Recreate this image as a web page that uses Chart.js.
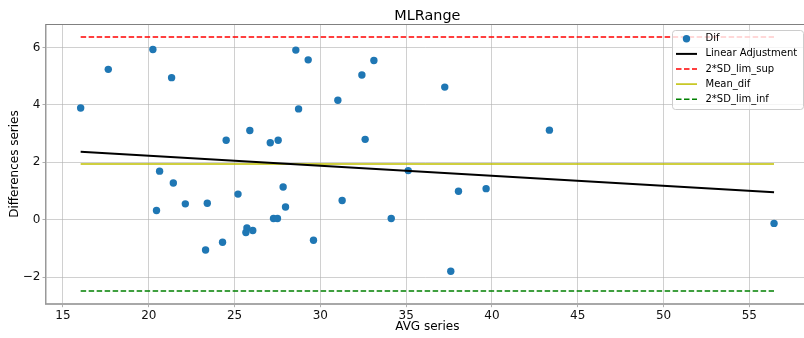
<!DOCTYPE html>
<html>
<head>
<meta charset="utf-8">
<script src="https://cdn.jsdelivr.net/npm/chart.js@4/dist/chart.umd.min.js"></script>
<style>
  html, body { margin: 0; padding: 0; overflow: hidden; background: #fff; width: 804px; height: 338px; }
  #c { display: block; }
</style>
</head>
<body>
<canvas id="c" width="804" height="338"></canvas>
<script>
// Mean of the two measurements (x) and their difference (y)
const avgSeries = [16.03, 17.64, 20.24, 21.33, 24.51, 25.89, 27.08, 27.54, 28.57, 29.29,
                   28.73, 20.63, 33.12, 32.42, 31.02, 32.61, 37.25, 43.35, 35.12, 21.43,
                   22.13, 20.45, 23.41, 25.20, 27.83, 27.97, 27.27, 27.50, 25.72, 25.66,
                   26.06, 24.30, 23.31, 29.60, 31.27, 34.13, 37.60, 38.05, 39.66, 56.44];
const difSeries = [3.89, 5.24, 5.93, 4.95, 2.77, 3.11, 2.68, 2.77, 5.91, 5.57,
                   3.86, 1.69, 5.55, 5.04, 4.16, 2.80, 4.62, 3.12, 1.71, 1.28,
                   0.55, 0.32, 0.57, 0.89, 1.14, 0.44, 0.04, 0.04, -0.29, -0.45,
                   -0.38, -0.79, -1.06, -0.72, 0.67, 0.04, -1.80, 0.99, 1.08, -0.13];

// Reference levels
const meanDif = 1.94;
const limSup = 6.37;
const limInf = -2.49;

// Linear adjustment of the differences against the averages
const fitSlope = -0.0351;
const fitIntercept = 2.933;

const xTicks = [15, 20, 25, 30, 35, 40, 45, 50, 55];
const yTicks = [-2, 0, 2, 4, 6];
const legendLabels = ['Dif', 'Linear Adjustment', '2*SD_lim_sup', 'Mean_dif', '2*SD_lim_inf'];

const chartTitle = 'MLRange';
const xTitle = 'AVG series';
const yTitle = 'Differences series';

const FONT = '"DejaVu Sans", "Liberation Sans", sans-serif';
const BLUE = '#1f77b4';
const RED = '#ff0000';
const YELLOW = '#bfbf00';
const GREEN = '#008000';
const DASH = [5.5, 2.5];
const GRID = 'rgba(176,176,176,0.6)';

// frame geometry (pixels)
const FRAME_LEFT = 46;
const FRAME_TOP = 24.3;
const FRAME_RIGHT = 808.7;
const FRAME_BOTTOM = 303.7;

const xLo = Math.min(...avgSeries);
const xHi = Math.max(...avgSeries);
const hline = v => [{ x: xLo, y: v }, { x: xHi, y: v }];

const points = avgSeries.map((x, i) => ({ x: x, y: difSeries[i] }));
const fitLine = [xLo, xHi].map(x => ({ x: x, y: fitIntercept + fitSlope * x }));

const lineDs = (data, color, width, dash) => ({
  type: 'line', data: data, showLine: true, fill: false,
  borderColor: color, borderWidth: width, borderDash: dash || [],
  pointRadius: 0, pointHoverRadius: 0, tension: 0
});

// Titles, top frame line and the legend box
const decor = {
  id: 'decor',
  afterDraw(chart) {
    const ctx = chart.ctx;
    const a = chart.chartArea;
    ctx.save();

    // top frame line
    ctx.strokeStyle = '#808080';
    ctx.lineWidth = 1;
    ctx.beginPath();
    ctx.moveTo(a.left, 24.5);
    ctx.lineTo(chart.width, 24.5);
    ctx.stroke();

    const cx = (a.left + a.right) / 2;
    ctx.fillStyle = '#000';
    ctx.textAlign = 'center';
    ctx.textBaseline = 'alphabetic';
    ctx.font = '14.4px ' + FONT;
    ctx.fillText(chartTitle, cx, 20);

    ctx.font = '12px ' + FONT;
    ctx.fillText(xTitle, cx, 329.5);

    ctx.save();
    ctx.translate(17.5, (a.top + a.bottom) / 2);
    ctx.rotate(-Math.PI / 2);
    ctx.fillText(yTitle, 0, 0);
    ctx.restore();

    // legend
    const bx = 672.5, by = 30.5, bw = 131, bh = 79, r = 3;
    ctx.beginPath();
    ctx.moveTo(bx + r, by);
    ctx.lineTo(bx + bw - r, by);
    ctx.arcTo(bx + bw, by, bx + bw, by + r, r);
    ctx.lineTo(bx + bw, by + bh - r);
    ctx.arcTo(bx + bw, by + bh, bx + bw - r, by + bh, r);
    ctx.lineTo(bx + r, by + bh);
    ctx.arcTo(bx, by + bh, bx, by + bh - r, r);
    ctx.lineTo(bx, by + r);
    ctx.arcTo(bx, by, bx + r, by, r);
    ctx.closePath();
    ctx.fillStyle = 'rgba(255,255,255,0.8)';
    ctx.fill();
    ctx.strokeStyle = '#cccccc';
    ctx.lineWidth = 1;
    ctx.stroke();

    const styles = [
      { dot: true },
      { color: '#000', width: 2, dash: [] },
      { color: RED, width: 1.5, dash: DASH },
      { color: YELLOW, width: 1.5, dash: [] },
      { color: GREEN, width: 1.5, dash: DASH }
    ];
    ctx.font = '10px ' + FONT;
    ctx.textAlign = 'left';
    ctx.textBaseline = 'middle';
    legendLabels.forEach((label, i) => {
      const y = 38.8 + i * 15.1;
      const s = styles[i];
      if (s.dot) {
        ctx.fillStyle = BLUE;
        ctx.beginPath();
        ctx.arc(686.5, y, 3.7, 0, Math.PI * 2);
        ctx.fill();
      } else {
        ctx.strokeStyle = s.color;
        ctx.lineWidth = s.width;
        ctx.setLineDash(s.dash);
        ctx.beginPath();
        ctx.moveTo(676, y);
        ctx.lineTo(697, y);
        ctx.stroke();
        ctx.setLineDash([]);
      }
      ctx.fillStyle = '#000';
      ctx.fillText(label, 705.5, y);
    });
    ctx.restore();
  }
};

// Pin the plot frame so that its right side lies past the canvas edge
const frame = {
  id: 'frame',
  afterLayout(chart) {
    const a = chart.chartArea;
    a.left = FRAME_LEFT; a.top = FRAME_TOP; a.right = FRAME_RIGHT; a.bottom = FRAME_BOTTOM;
    a.width = a.right - a.left; a.height = a.bottom - a.top;
    const xs = chart.scales.x, ys = chart.scales.y;
    xs.left = FRAME_LEFT; xs.right = FRAME_RIGHT; xs.width = FRAME_RIGHT - FRAME_LEFT;
    xs.top = FRAME_BOTTOM; xs.bottom = chart.height; xs.height = chart.height - FRAME_BOTTOM;
    ys.left = 0; ys.right = FRAME_LEFT; ys.width = FRAME_LEFT;
    ys.top = FRAME_TOP; ys.bottom = FRAME_BOTTOM; ys.height = FRAME_BOTTOM - FRAME_TOP;
    xs.configure(); ys.configure();
  }
};

const gridLine = c => (c.tick && xTicks.includes(c.tick.value)) || (c.tick && yTicks.includes(c.tick.value)) ? GRID : 'rgba(0,0,0,0)';

const gridOpts = {
  color: gridLine,
  lineWidth: 1,
  drawTicks: true,
  tickLength: 3.5,
  tickColor: '#b0b0b0'
};

new Chart(document.getElementById('c'), {
  type: 'scatter',
  data: {
    datasets: [
      lineDs(fitLine, '#000', 2),
      lineDs(hline(limSup), RED, 1.5, DASH),
      lineDs(hline(meanDif), YELLOW, 1.5),
      lineDs(hline(limInf), GREEN, 1.5, DASH),
      {
        label: legendLabels[0],
        data: points,
        pointRadius: 3.7,
        pointHoverRadius: 3.7,
        pointBackgroundColor: BLUE,
        pointBorderWidth: 0,
        showLine: false
      }
    ]
  },
  options: {
    responsive: false,
    animation: false,
    devicePixelRatio: 1,
    layout: { padding: { top: 24.3, left: 0, right: 0, bottom: 0 } },
    plugins: { legend: { display: false }, tooltip: { enabled: false }, title: { display: false } },
    events: [],
    scales: {
      x: {
        type: 'linear',
        min: 14.01,
        max: 58.46,
        afterBuildTicks: s => { s.ticks = xTicks.map(v => ({ value: v })); },
        afterFit: s => { s.height = 34.3; },
        grid: gridOpts,
        border: { display: true, color: '#a8a8a8', width: 2 },
        ticks: {
          color: '#111', padding: 1, maxRotation: 0, autoSkip: false,
          font: { family: FONT, size: 12 },
          callback: v => String(v)
        }
      },
      y: {
        type: 'linear',
        min: -2.93,
        max: 6.81,
        afterBuildTicks: s => { s.ticks = yTicks.map(v => ({ value: v })); },
        afterFit: s => { s.width = 46; },
        grid: gridOpts,
        border: { display: true, color: '#999999', width: 1.5 },
        ticks: {
          color: '#111', padding: 2, autoSkip: false,
          font: { family: FONT, size: 12 },
          callback: v => (v < 0 ? '\u2212' + Math.abs(v) : String(v))
        }
      }
    }
  },
  plugins: [frame, decor]
});
</script>
</body>
</html>
